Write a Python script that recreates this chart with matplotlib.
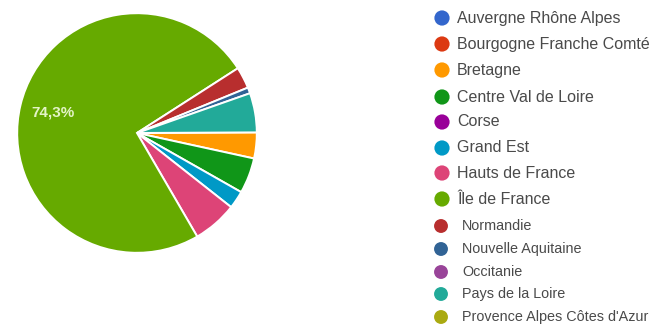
import matplotlib
matplotlib.use("Agg")
import matplotlib.pyplot as plt

# régions (ordre de la légende) et part des réponses en %
regions = ["Auvergne Rhône Alpes", "Bourgogne Franche Comté", "Bretagne",
           "Centre Val de Loire", "Corse", "Grand Est", "Hauts de France",
           "Île de France", "Normandie", "Nouvelle Aquitaine", "Occitanie",
           "Pays de la Loire", "Provence Alpes Côtes d'Azur"]
parts = [0, 0, 3.5, 4.8, 0, 2.4, 6.0, 74.3, 2.9, 0.8, 0, 5.3, 0]
couleurs = ["#3366cc", "#dc3912", "#ff9900", "#109618", "#990099", "#0099c6",
            "#dd4477", "#66aa00", "#b82e2e", "#316395", "#994499", "#22aa99",
            "#aaaa11"]

W, H = 654, 329
fig = plt.figure(figsize=(W / 100, H / 100), dpi=100)
fig.patch.set_facecolor("white")

# camembert : centre (137, 133) px, rayon 121 px
cx, cy, r = 137, 133, 121
ax = fig.add_axes([(cx - r) / W, (H - cy - r) / H, 2 * r / W, 2 * r / H])

# on ne trace que les parts non nulles
vals = [v for v in parts if v > 0]
cols = [c for v, c in zip(parts, couleurs) if v > 0]


def etiquette(pct):
    return f"{pct:.1f}%".replace(".", ",") if pct > 10 else ""


wedges, texts, autotexts = ax.pie(
    vals, colors=cols, startangle=0.3, counterclock=False,
    autopct=etiquette, pctdistance=0.72,
    wedgeprops=dict(edgecolor="white", linewidth=1.4),
    textprops=dict(color="#e4f4c8", fontsize=11, fontweight="bold",
                   family="Liberation Sans"))
ax.set_xlim(-1.01, 1.01)
ax.set_ylim(-1.01, 1.01)
ax.axis("off")

# légende dessinée à la main, en coordonnées pixel
lg = fig.add_axes([0, 0, 1, 1])
lg.set_xlim(0, W)
lg.set_ylim(H, 0)
lg.axis("off")
lignes = [18, 44, 70, 97, 122, 148, 173, 199, 226, 249, 272, 294, 317]
for i, (nom, c, y) in enumerate(zip(regions, couleurs, lignes)):
    grand = i < 8
    xm = 442 if grand else 441
    xt = 457 if grand else 462
    lg.scatter([xm], [y], s=120 if grand else 100, color=c, edgecolors="none")
    lg.text(xt, y, nom, va="center", ha="left", color="#4a4a4a",
            fontsize=11.5 if grand else 10.4, family="Liberation Sans")

fig.savefig("out.png", dpi=100, facecolor="white")
